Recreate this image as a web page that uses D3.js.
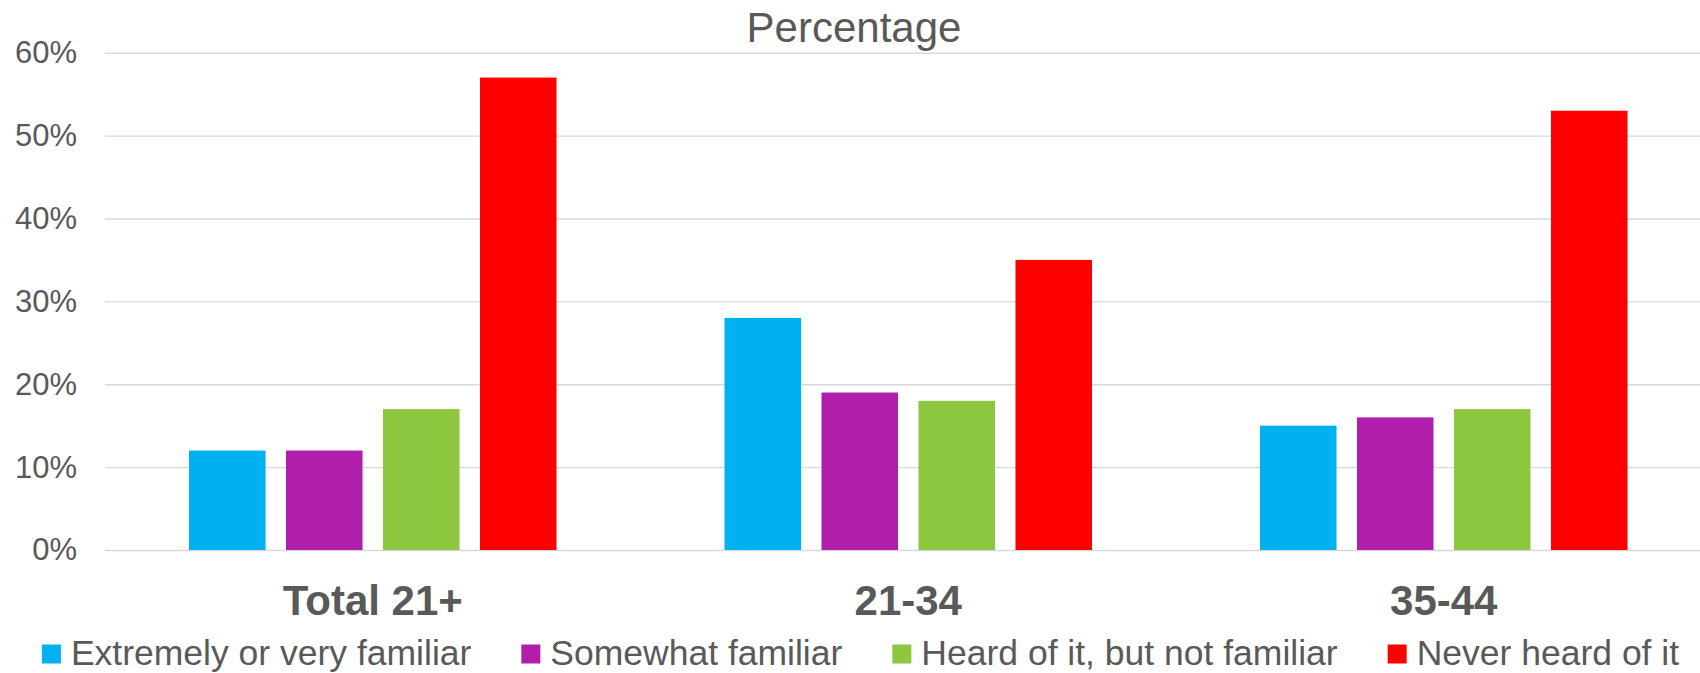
<!DOCTYPE html>
<html>
<head>
<meta charset="utf-8">
<script src="https://cdn.jsdelivr.net/npm/d3@7"></script>
<style>
  html, body { margin: 0; padding: 0; background: #fff; }
  svg { display: block; font-family: "Liberation Sans", Arial, sans-serif; }
</style>
</head>
<body>
<svg id="chart" width="1700" height="673"></svg>
<script>
// Familiarity by age group
const categories = ["Total 21+", "21-34", "35-44"];
const seriesNames = [
  "Extremely or very familiar",
  "Somewhat familiar",
  "Heard of it, but not familiar",
  "Never heard of it"
];
const extremelyFamiliar = [12, 28, 15];
const somewhatFamiliar = [12, 19, 16];
const heardNotFamiliar = [17, 18, 17];
const neverHeard = [57, 35, 53];
const yTicks = [0, 10, 20, 30, 40, 50, 60];
const seriesColors = ["#00B0F0", "#B01EAC", "#8DC63F", "#FF0000"];

const seriesValues = [extremelyFamiliar, somewhatFamiliar, heardNotFamiliar, neverHeard];
const rows = categories.map((c, i) => ({
  category: c,
  values: seriesNames.map((s, j) => ({ series: s, idx: j, value: seriesValues[j][i] }))
}));

const svg = d3.select("#chart");
const plot = { left: 105, right: 1711.5, top: 52.7, bottom: 550 };
const textColor = "#595959";

const x0 = d3.scaleBand()
  .domain(categories)
  .range([plot.left, plot.right])
  .paddingInner(0.3137)
  .paddingOuter(0.1569);

const x1 = d3.scaleBand()
  .domain(d3.range(seriesNames.length))
  .range([0, x0.bandwidth()])
  .paddingInner(0.211)
  .paddingOuter(0);

const y = d3.scaleLinear().domain([0, 60]).range([plot.bottom, plot.top]);

// Gridlines and percentage labels
const yAxis = d3.axisLeft(y)
  .tickValues(yTicks)
  .tickSize(-(plot.right - plot.left))
  .tickPadding(28)
  .tickFormat(d => d + "%");

const gy = svg.append("g")
  .attr("transform", `translate(${plot.left},0)`)
  .call(yAxis);
gy.select(".domain").remove();
gy.selectAll(".tick line").attr("stroke", "#d9d9d9").attr("stroke-width", 1.4);
gy.selectAll(".tick text")
  .attr("fill", textColor)
  .attr("font-size", 31)
  .attr("font-family", "Liberation Sans, Arial, sans-serif");

// Title
svg.append("text")
  .attr("x", 854)
  .attr("y", 41.5)
  .attr("text-anchor", "middle")
  .attr("fill", textColor)
  .attr("font-size", 42)
  .text("Percentage");

// Bars
const groups = svg.append("g")
  .selectAll("g")
  .data(rows)
  .join("g")
  .attr("transform", d => `translate(${x0(d.category)},0)`);

groups.selectAll("rect")
  .data(d => d.values)
  .join("rect")
  .attr("x", d => x1(d.idx))
  .attr("width", x1.bandwidth())
  .attr("y", d => y(d.value))
  .attr("height", d => y(0) - y(d.value))
  .attr("fill", d => seriesColors[d.idx]);

// Category labels
const xAxis = d3.axisBottom(x0).tickSize(0).tickPadding(0);
const gx = svg.append("g")
  .attr("transform", `translate(0,${plot.bottom})`)
  .call(xAxis);
gx.select(".domain").remove();
gx.selectAll(".tick text")
  .attr("fill", textColor)
  .attr("font-size", 42)
  .attr("font-weight", "bold")
  .attr("font-family", "Liberation Sans, Arial, sans-serif")
  .attr("dy", null)
  .attr("y", 65);

// Legend
const legend = svg.append("g");
const items = legend.selectAll("g")
  .data(seriesNames)
  .join("g");
items.append("rect")
  .attr("width", 19)
  .attr("height", 19)
  .attr("y", 644.5)
  .attr("fill", (d, i) => seriesColors[i]);
items.append("text")
  .attr("x", 29)
  .attr("y", 665)
  .attr("fill", textColor)
  .attr("font-size", 35.5)
  .text(d => d);

const itemGap = 50;
const widths = [];
items.each(function () {
  const w = 29 + d3.select(this).select("text").node().getComputedTextLength();
  widths.push(w);
});
const total = d3.sum(widths) + itemGap * (widths.length - 1);
let cursor = 860.5 - total / 2;
items.attr("transform", (d, i) => {
  const t = `translate(${cursor},0)`;
  cursor += widths[i] + itemGap;
  return t;
});
</script>
</body>
</html>
